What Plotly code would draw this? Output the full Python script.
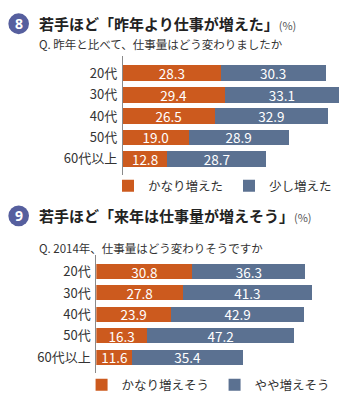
import plotly.graph_objects as go

W, H = 350, 400

# ---- data ----
ages = ["20代", "30代", "40代", "50代", "60代以上"]
c1_strong = [28.3, 29.4, 26.5, 19.0, 12.8]
c1_some = [30.3, 33.1, 32.9, 28.9, 28.7]
c1_names = ["かなり増えた", "少し増えた"]
c2_strong = [30.8, 27.8, 23.9, 16.3, 11.6]
c2_some = [36.3, 41.3, 42.9, 47.2, 35.4]
c2_names = ["かなり増えそう", "やや増えそう"]

title1 = "若手ほど「昨年より仕事が増えた」"
sub1 = "Q. 昨年と比べて、仕事量はどう変わりましたか"
title2 = "若手ほど「来年は仕事量が増えそう」"
sub2 = "Q. 2014年、仕事量はどう変わりそうですか"

ORANGE = "#CC5A1E"
BLUE = "#5B7191"
CIRCLE = "#565F9E"
FONT = "Noto Sans CJK JP"

pos = list(range(len(ages)))

def px(x):
    return x / W

def py(y):
    return 1 - y / H

fig = go.Figure()

def add_bars(vals, name, color, xa, ya, legend, width):
    fig.add_trace(go.Bar(
        y=pos, x=vals, name=name, orientation="h",
        marker=dict(color=color, line=dict(width=0)),
        width=width,
        text=[f"{v:.1f}" for v in vals],
        textposition="inside", insidetextanchor="middle",
        constraintext="none",
        textfont=dict(color="white", size=13.5, family=FONT),
        xaxis=xa, yaxis=ya, legend=legend,
        hoverinfo="skip",
    ))

add_bars(c1_strong, c1_names[0], ORANGE, "x", "y", "legend", 0.74)
add_bars(c1_some, c1_names[1], BLUE, "x", "y", "legend", 0.74)
add_bars(c2_strong, c2_names[0], ORANGE, "x2", "y2", "legend2", 0.70)
add_bars(c2_some, c2_names[1], BLUE, "x2", "y2", "legend2", 0.70)

# chart 1 geometry: axis at x=125, 3.52 px/unit
x1_range = [0, 63]
x1_dom = [px(125), px(125 + 63 * 3.52)]
# chart 2 geometry: axis at x=98, 3.17 px/unit
x2_range = [0, 75]
x2_dom = [px(98), px(98 + 75 * 3.17)]

yaxis_common = dict(
    tickvals=pos, ticktext=ages, showgrid=False, zeroline=False,
    showline=True, linecolor="#8a8a8a", linewidth=1,
    ticks="outside", ticklen=2, tickcolor="rgba(0,0,0,0)",
    tickfont=dict(size=13, color="#333333", family=FONT),
    fixedrange=True,
)
xaxis_common = dict(visible=False, showgrid=False, zeroline=False, fixedrange=True)

legend_common = dict(orientation="h", xanchor="left", yanchor="middle",
                     font=dict(size=12.5, color="#333333", family=FONT),
                     itemwidth=30, traceorder="normal",
                     bgcolor="rgba(0,0,0,0)", tracegroupgap=0)

fig.update_layout(
    width=W, height=H,
    margin=dict(l=0, r=0, t=0, b=0),
    paper_bgcolor="white", plot_bgcolor="white",
    barmode="stack",
    font=dict(family=FONT, color="#333333"),
    xaxis=dict(domain=x1_dom, range=x1_range, anchor="y", **xaxis_common),
    yaxis=dict(domain=[py(177), py(57)], range=[4.77, -0.79], anchor="x", **yaxis_common),
    xaxis2=dict(domain=x2_dom, range=x2_range, anchor="y2", **xaxis_common),
    yaxis2=dict(domain=[py(377), py(258)], range=[4.74, -0.75], anchor="x2", **yaxis_common),
    legend=dict(x=px(110), y=py(188), entrywidth=76, **legend_common),
    legend2=dict(x=px(83), y=py(389), entrywidth=88, **legend_common),
    showlegend=True,
)

# numbered circles
for num, cy in (("8", 24), ("9", 218)):
    r = 10.5
    fig.add_shape(type="circle", xref="paper", yref="paper",
                  x0=px(19 - r), x1=px(19 + r), y0=py(cy + r), y1=py(cy - r),
                  fillcolor=CIRCLE, line=dict(width=0), layer="above")
    fig.add_annotation(x=px(19), y=py(cy), xref="paper", yref="paper",
                       text=f"<b>{num}</b>", showarrow=False,
                       font=dict(size=14, color="white", family="Noto Sans"),
                       xanchor="center", yanchor="middle")

for title, cy in ((title1, 24), (title2, 218)):
    fig.add_annotation(x=px(38), y=py(cy), xref="paper", yref="paper",
                       text=f"<b>{title}</b><span style='font-size:11px;color:#555'>(%)</span>",
                       showarrow=False, xanchor="left", yanchor="middle",
                       font=dict(size=15, color="#222222", family=FONT))

for sub, cy in ((sub1, 44), (sub2, 251)):
    fig.add_annotation(x=px(38), y=py(cy), xref="paper", yref="paper",
                       text=sub, showarrow=False, xanchor="left", yanchor="middle",
                       font=dict(size=11.5, color="#333333", family=FONT))

fig.write_html("out.html")
